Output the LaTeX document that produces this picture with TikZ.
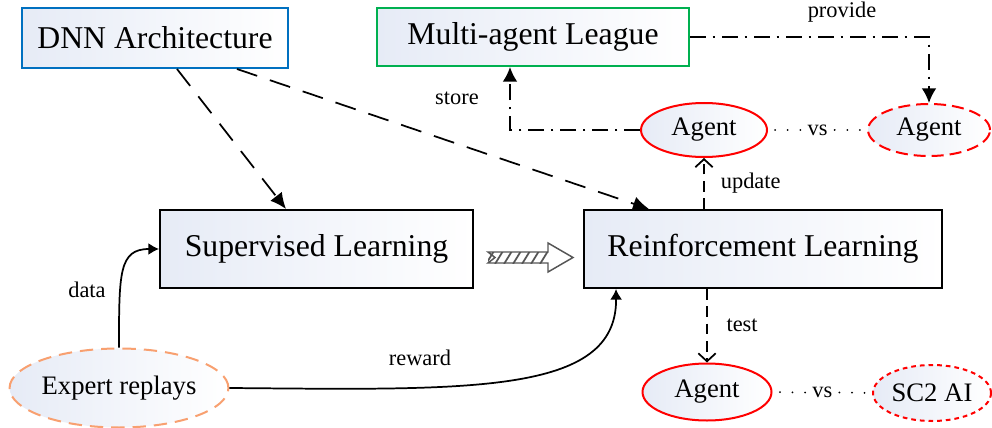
\documentclass[tikz,border=0pt]{standalone}
\usepackage{fontspec}
\setmainfont{Liberation Serif}
\usetikzlibrary{arrows.meta,calc,shapes.geometric}
\definecolor{bblue}{HTML}{0070C0}
\definecolor{bgreen}{HTML}{00B050}
\definecolor{bred}{HTML}{FF0000}
\definecolor{borange}{HTML}{F8A070}
\definecolor{fillb}{HTML}{E6EBF6}
\definecolor{hatchc}{HTML}{555555}
\begin{document}
\begin{tikzpicture}[x=0.75pt,y=-0.75pt,
  box/.style={draw, line width=1.5pt, rectangle, left color=fillb, right color=white,
    font=\fontsize{23.8}{28}\selectfont, inner sep=0pt},
  ell/.style={ellipse, draw=bred, line width=1.5pt, left color=fillb, right color=white,
    font=\fontsize{20}{24}\selectfont, inner sep=0pt},
  lbl/.style={font=\fontsize{16.8}{20}\selectfont, inner sep=0pt},
  longdash/.style={line width=1.3pt, dash pattern=on 16pt off 10pt, -{Latex[length=12pt,width=11pt]}},
  dashdot/.style={line width=1.3pt, dash pattern=on 12pt off 5pt on 2pt off 5pt, -{Latex[length=11pt,width=11pt]}},
  shortdash/.style={line width=1.3pt, dash pattern=on 8pt off 5pt, -{Straight Barb[length=6pt,width=13pt]}},
  solidarrow/.style={line width=1.3pt, -{Latex[length=8pt,width=9pt]}},
  vsline/.style={line width=1.5pt, dash pattern=on 0.01pt off 9.4pt, line cap=round},
  vslabel/.style={lbl, inner xsep=5.25pt, inner ysep=2pt}
]
\useasboundingbox (0,0) rectangle (992,428);

% nodes
\node[box, draw=bblue, minimum width=199.5pt, minimum height=45pt] (dnn) at (155,38) {DNN Architecture};
\node[box, draw=bgreen, minimum width=234pt, minimum height=43.5pt] (mal) at (533,37) {Multi-agent League};
\node[box, draw=black, minimum width=234.75pt, minimum height=58.5pt] (sl) at (316.5,249) {Supervised Learning};
\node[box, draw=black, minimum width=268.5pt, minimum height=58.5pt] (rl) at (763,249) {Reinforcement Learning};

\node[ell, minimum width=94.5pt, minimum height=40.5pt] (a1) at (704,130) {Agent};
\node[ell, dash pattern=on 9pt off 4.5pt, minimum width=91.5pt, minimum height=39pt] (a2) at (929,130) {Agent};
\node[ell, minimum width=96.75pt, minimum height=42.75pt] (a3) at (707,392) {Agent};
\node[ell, dash pattern=on 3.5pt off 3pt, minimum width=88.5pt, minimum height=42pt] (sc2) at (932,393) {SC2 AI};
\node[ell, draw=borange, dash pattern=on 10pt off 6pt, minimum width=163.5pt, minimum height=59.25pt] (exp) at (119,388) {Expert replays};

% labels
\node[lbl] (provl) at (842,12) {provide};
\node[lbl] (storel) at (457,98) {store};
\node[lbl] (datal) at (87,290) {data};
\node[lbl] (rewl) at (420,358) {reward};

% connectors
\draw[longdash] ($(dnn.south west)+(156,0)$) -- ($(sl.north west)+(127,0)$);
\draw[longdash] ($(dnn.south west)+(216,0)$) -- ($(rl.north west)+(66,0)$);

\draw[dashdot] (a1.west) -| ($(mal.south west)+(134,0)$);
\draw[dashdot] (mal.east) -| (a2.north);

\path (a1.east) -- node[vslabel] (vs1) {vs} (a2.west);
\draw[vsline] (vs1.west) -- (a1.east);
\draw[vsline] (vs1.east) -- (a2.west);
\path (a3.east) -- node[vslabel] (vs2) {vs} (sc2.west);
\draw[vsline] (vs2.west) -- (a3.east);
\draw[vsline] (vs2.east) -- (sc2.west);

\draw[shortdash] (a1.south |- rl.north) -- node[lbl, right=12pt] {update} (a1.south);
\draw[shortdash] (a3.north |- rl.south) -- node[lbl, right=14pt] {test} (a3.north);

\draw[solidarrow] (exp.north) .. controls +(0,-75) and +(-40,0) .. (sl.west);
\draw[solidarrow] (exp.east) .. controls (470,390) and (617,395) .. ($(rl.south west)+(33,0)$);

% hatched arrow
\def\hatcharrow{(488,252) -- (548,252) -- (548,243) -- (573,257.5) -- (548,272) -- (548,263) -- (488,263) -- (495,257.5) -- cycle}
\fill[white] \hatcharrow;
\begin{scope}
  \clip (488,252) rectangle (548,263);
  \foreach \i in {486,495,...,548} {
    \draw[hatchc, line width=1.3pt] (\i,264) -- (\i+8,251);
  }
\end{scope}
\draw[hatchc, line width=1.1pt, line join=miter] \hatcharrow;
\end{tikzpicture}
\end{document}
